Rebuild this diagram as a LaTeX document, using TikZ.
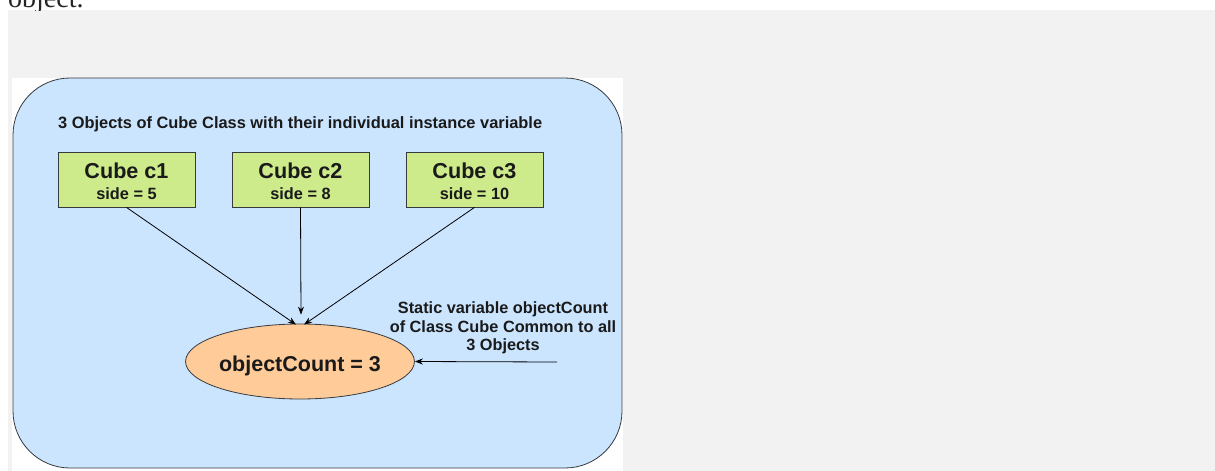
\documentclass[tikz,border=0pt]{standalone}
\usepackage{fontspec}
\setmainfont{Liberation Sans}
\newfontfamily\serifface{Liberation Serif}
\usetikzlibrary{shapes.geometric,arrows.meta,calc}
\definecolor{pagegray}{HTML}{F2F2F2}
\definecolor{panelblue}{HTML}{CCE5FF}
\definecolor{boxgreen}{HTML}{CDEB8B}
\definecolor{ovalorange}{HTML}{FFCC99}
\definecolor{edgegray}{HTML}{36393D}
\definecolor{inkdark}{HTML}{1A1A1A}
\newcommand{\cubename}[1]{{\fontsize{21.6}{24}\selectfont\rule{0pt}{20pt}#1}}
\begin{document}
\begin{tikzpicture}[x=1pt,y=-1pt,
  cubebox/.style={draw=edgegray, fill=boxgreen, line width=0.8pt,
    minimum width=137pt, minimum height=55pt, inner sep=0pt,
    align=center, text=inkdark, font=\bfseries\fontsize{16.3}{21}\selectfont},
  countoval/.style={ellipse, draw=edgegray, fill=ovalorange, line width=0.8pt,
    minimum width=190pt, minimum height=75pt, inner sep=0pt,
    text=inkdark, font=\bfseries\fontsize{21.5}{26}\selectfont},
  link/.style={draw=black, line width=0.8pt, -{Stealth[length=8pt,width=6pt]}},
  plaintext/.style={inner sep=0pt, text=inkdark},
  ]
\useasboundingbox (0,0) rectangle (1215,471);
% page background
\fill[white] (0,0) rectangle (1215,471);
\fill[pagegray] (8,10) rectangle (1215,471);
% last line of the preceding paragraph, cut by the top edge
\begin{scope}
  \clip (0,0) rectangle (1215,10);
  \node[anchor=base west, inner sep=0pt, text=black!85,
        font=\serifface\fontsize{28}{32}\selectfont] (pagetext) at (8,7) {object.};
\end{scope}
% diagram panel
\fill[white] (12,78) rectangle (623,471);
\draw[edgegray, fill=panelblue, line width=0.8pt, rounded corners=57pt]
  (13,78) rectangle (622,468);
\node[plaintext, anchor=base west, font=\bfseries\fontsize{16.4}{19}\selectfont]
  (title) at (58,128.5) {3 Objects of Cube Class with their individual instance variable};
% the three objects
\node[cubebox] (c1) at (126.5,179.5) {\cubename{Cube c1}\\side = 5};
\node[cubebox] (c2) at (300.5,179.5) {\cubename{Cube c2}\\side = 8};
\node[cubebox] (c3) at (474.5,179.5) {\cubename{Cube c3}\\side = 10};
% shared static variable
\node[countoval] (count) at (300,361.5) {\raisebox{0pt}[20.5pt][0pt]{objectCount = 3}};
\node[plaintext, align=center, font=\bfseries\fontsize{16.3}{18.5}\selectfont]
  (note) at (503,328) {Static variable objectCount\\of Class Cube Common to all\\3 Objects};
\coordinate (noteend) at (557,362);
% connectors
\draw[link] (c1.south) -- ($(count.north)+(-4,1)$);
\draw[link] (c2.south) -- ($(count.north)+(1,-9)$);
\draw[link] (c3.south) -- ($(count.north)+(4,1)$);
\draw[link] (noteend) -- (count.east);
\end{tikzpicture}
\end{document}
